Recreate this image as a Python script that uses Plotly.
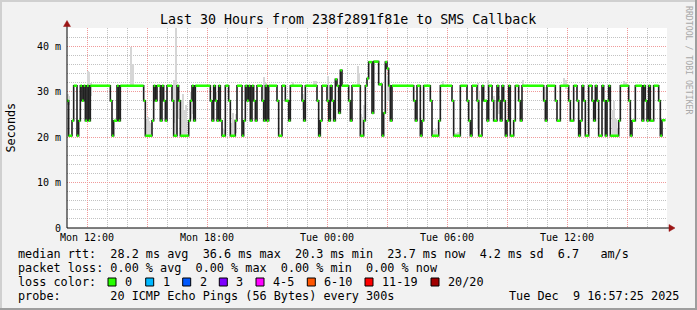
import plotly.graph_objects as go
import pandas as pd

# ---------------- data ----------------
START = pd.Timestamp("2025-12-08 11:00")   # Mon 11:00, 30 hours shown
STEP_S = 300                               # 5-minute RRD step
END_STEP = 359

# median RTT step changes: step index where a new value begins, value in ms
change_step = [0, 1, 3, 4, 6, 7, 8, 9, 10, 11, 12, 13, 14, 26, 27, 28, 30, 31, 32,
               46, 47, 51, 52, 53, 54, 56, 57, 58, 59, 60, 63, 64, 66, 67, 68, 73, 74,
               75, 76, 77, 86, 87, 88, 89, 90, 91, 92, 93, 95, 97, 98, 101, 102, 105,
               106, 107, 108, 109, 110, 111, 112, 113, 114, 117, 118, 119, 120, 121,
               126, 127, 129, 131, 133, 134, 141, 142, 143, 150, 151, 152, 153, 156,
               157, 158, 159, 160, 161, 162, 163, 164, 165, 169, 170, 171, 176, 178,
               179, 180, 181, 183, 184, 187, 189, 190, 191, 192, 193, 194, 195, 208,
               209, 210, 212, 213, 214, 218, 219, 223, 224, 231, 232, 236, 240, 241,
               242, 243, 246, 247, 249, 250, 252, 253, 255, 256, 258, 259, 260, 261,
               262, 263, 264, 265, 266, 268, 269, 271, 272, 273, 286, 287, 288, 293,
               294, 296, 301, 302, 304, 306, 307, 308, 309, 310, 311, 313, 315, 316,
               317, 318, 319, 321, 322, 323, 324, 325, 326, 331, 332, 337, 338, 339,
               341, 345, 346, 347, 348, 349, 350, 352, 355, 356, 357]
median_ms = [28.0, 20.3, 23.6, 31.3, 20.3, 23.6, 31.3, 28.0, 31.3, 23.6, 31.3, 23.6, 31.3,
             28.0, 20.3, 23.6, 31.3, 23.6, 31.3,
             28.0, 20.3, 23.6, 31.3, 28.0, 31.3, 23.6, 31.3, 28.0, 23.6, 31.3, 28.0, 20.3,
             31.3, 28.0, 20.3, 23.6, 28.0,
             31.3, 23.6, 31.3, 28.0, 23.6, 31.3, 28.0, 23.6, 31.3, 23.6, 20.3, 31.3, 28.0,
             20.3, 23.6, 31.3, 20.3,
             23.6, 31.3, 28.0, 31.3, 23.6, 31.3, 28.0, 23.6, 31.3, 28.0, 23.6, 31.3, 23.6,
             31.3,
             28.0, 20.3, 31.3, 28.0, 23.6, 31.3, 28.0, 23.6, 31.3, 28.0, 20.3, 23.6, 31.3,
             28.0,
             23.6, 31.3, 28.0, 23.6, 32.7, 31.3, 25.3, 34.7, 31.3, 28.0, 23.6, 31.3, 20.3,
             23.6,
             31.3, 32.9, 36.5, 25.3, 36.6, 31.6, 20.3, 25.3, 36.5, 35.1, 31.3, 23.6, 31.3,
             28.0,
             23.6, 31.3, 20.3, 23.6, 31.3, 28.0, 20.3, 23.6, 31.3, 28.0, 20.3, 31.3, 28.0,
             23.6,
             20.3, 31.3, 28.0, 20.3, 31.3, 28.0, 23.6, 31.3, 28.0, 23.6, 31.3, 28.0, 23.6,
             31.3,
             28.0, 20.3, 23.6, 31.3, 20.3, 23.6, 31.3, 28.0, 23.6, 31.3, 28.0, 23.6, 31.3,
             28.0,
             23.6, 31.3, 28.0, 23.6, 31.3, 28.0, 20.3, 23.6, 31.3, 28.0, 20.3, 31.3, 28.0,
             23.6,
             31.3, 28.0, 20.3, 31.3, 28.0, 20.3, 28.0, 31.3, 20.3, 23.6, 31.3, 28.0, 20.3,
             23.6,
             31.3, 23.6, 31.3, 28.0, 23.6, 31.3, 23.6, 31.3, 28.0, 20.3, 23.7]

# smoke (spread of the 20 pings) : step index, low ms, high ms
smoke_step = [0, 1, 12, 13, 14, 38, 39, 47, 48, 49, 50, 64, 65, 66, 68, 69, 70, 71, 74, 75,
              88, 89, 93, 94, 98, 99, 100, 101, 118, 119, 120, 135, 141, 148, 149, 156, 157,
              174, 175, 176, 177, 178, 192, 193, 220, 221, 225, 233, 234, 246, 247, 252,
              256, 257, 259, 273, 286, 287, 298, 299, 327, 328, 329, 330, 334, 335]
smoke_low_ms = [27.0, 27.0, 28.0, 28.0, 29.0, 31.3, 31.3, 20.3, 20.3, 20.3, 20.3, 23.0, 20.3,
                24.0, 20.3, 20.3, 20.3, 20.3, 24.0, 25.0, 28.0, 28.0, 20.3, 20.3, 20.3, 20.3,
                20.3, 21.0, 28.0, 28.0, 24.0, 31.3, 26.0, 31.3, 31.3, 28.0, 26.0, 31.3, 31.3,
                20.3, 20.3, 23.6, 28.0, 30.0, 20.3, 20.3, 31.3, 20.3, 20.3, 22.0, 20.5, 30.0,
                23.6, 24.0, 25.0, 31.3, 28.0, 26.0, 31.3, 30.5, 20.3, 20.3, 20.3, 20.3, 31.3,
                31.3]
smoke_high_ms = [29.5, 29.0, 34.5, 34.3, 32.0, 39.8, 36.0, 24.0, 24.5, 23.5, 23.0, 32.5, 44.0,
                 31.0, 28.0, 29.5, 26.0, 27.0, 30.0, 30.5, 31.0, 30.0, 22.0, 21.5, 23.0, 25.3,
                 24.0, 25.0, 33.2, 32.0, 30.0, 32.2, 29.5, 32.4, 32.4, 33.5, 31.0, 35.7, 34.0,
                 25.0, 24.5, 27.0, 33.4, 32.5, 21.5, 21.8, 32.4, 21.0, 21.2, 32.0, 30.0, 32.5,
                 29.0, 28.0, 29.0, 32.6, 31.0, 31.0, 33.0, 32.5, 26.0, 28.0, 24.0, 22.0, 32.4,
                 32.2]

y_tick_vals = [0, 10, 20, 30, 40]
y_tick_text = ["0", "10 m", "20 m", "30 m", "40 m"]
x_grid_times = ["2025-12-08 12:00", "2025-12-08 15:00", "2025-12-08 18:00", "2025-12-08 21:00",
                "2025-12-09 00:00", "2025-12-09 03:00", "2025-12-09 06:00", "2025-12-09 09:00",
                "2025-12-09 12:00", "2025-12-09 15:00"]
x_grid_text = ["Mon 12:00", "", "Mon 18:00", "", "Tue 00:00", "", "Tue 06:00", "",
               "Tue 12:00", ""]

loss_labels = ["0", "1", "2", "3", "4-5", "6-10", "11-19", "20/20"]
loss_colors = ["#26ff00", "#00b8ff", "#0059ff", "#7e00ff", "#ff00ff", "#ff5500", "#ff0000",
               "#a10000"]

title = "Last 30 Hours from 238f2891f81e to SMS Callback"
stat_lines = [
    "median rtt:  28.2 ms avg  36.6 ms max  20.3 ms min  23.7 ms now  4.2 ms sd  6.7   am/s",
    "packet loss: 0.00 % avg  0.00 % max  0.00 % min  0.00 % now",
    "loss color:",
    "probe:       20 ICMP Echo Pings (56 Bytes) every 300s",
]
stamp = "Tue Dec  9 16:57:25 2025"

# ---------------- figure ----------------
MONO = "DejaVu Sans Mono"
L, R, T, B = 67, 30, 28, 82
W, H = 697, 310
PW, PH = W - L - R, H - T - B


def px(x):
    return (x - L) / PW


def py(y):
    return (T + PH - y) / PH


def tm(i):
    return START + pd.Timedelta(seconds=STEP_S * i)


def nb(s):
    return s.replace(" ", "\u00a0")


fig = go.Figure()

# smoke
fig.add_trace(go.Bar(
    x=[tm(s + 0.5) for s in smoke_step],
    y=[h - l for l, h in zip(smoke_low_ms, smoke_high_ms)],
    base=smoke_low_ms,
    width=STEP_S * 1000,
    marker=dict(color="#d6d6d6", line=dict(width=0)),
    hoverinfo="skip", showlegend=False,
))

# median black step line
xs = [tm(s) for s in change_step] + [tm(END_STEP)]
ys = median_ms + [median_ms[-1]]
fig.add_trace(go.Scatter(x=xs, y=ys, mode="lines", line=dict(color="#202020", width=1.6, shape="hv"),
                         hoverinfo="skip", showlegend=False))

# green (0 % loss) horizontal segments
gx, gy = [], []
for k, v in enumerate(median_ms):
    s0 = change_step[k]
    s1 = change_step[k + 1] if k + 1 < len(change_step) else END_STEP
    gx += [tm(s0), tm(s1), None]
    gy += [v, v, None]
fig.add_trace(go.Scatter(x=gx, y=gy, mode="lines", line=dict(color=loss_colors[0], width=2.5),
                         hoverinfo="skip", showlegend=False))

ann = []
ann.append(dict(text=nb(title), x=px(348), y=py(19), xref="paper", yref="paper",
                xanchor="center", yanchor="middle", showarrow=False,
                font=dict(family=MONO, size=13.3, color="#000")))
for j, line in enumerate(stat_lines):
    ann.append(dict(text=nb(line), x=px(16), y=py(254 + 14 * j), xref="paper", yref="paper",
                    xanchor="left", yanchor="middle", showarrow=False,
                    font=dict(family=MONO, size=11.8, color="#000")))
ann.append(dict(text=nb(stamp), x=px(681), y=py(296), xref="paper", yref="paper",
                xanchor="right", yanchor="middle", showarrow=False,
                font=dict(family=MONO, size=11.8, color="#000")))
ann.append(dict(text="Seconds", x=px(10.5), y=py(128), xref="paper", yref="paper",
                xanchor="center", yanchor="middle", showarrow=False, textangle=-90,
                font=dict(family=MONO, size=11.8, color="#000")))
ann.append(dict(text=nb("RRDTOOL / TOBI OETIKER"), x=px(689), y=py(60), xref="paper", yref="paper",
                xanchor="center", yanchor="middle", showarrow=False, textangle=90,
                font=dict(family=MONO, size=8.2, color="#a8a8a8")))

box_x = [108, 145.7, 182.7, 219.3, 256, 307.3, 365, 431]
shapes = []
for bx, lab, col in zip(box_x, loss_labels, loss_colors):
    shapes.append(dict(type="rect", xref="paper", yref="paper", x0=px(bx), x1=px(bx + 8),
                       y0=py(286), y1=py(278), fillcolor=col, line=dict(color="#000", width=1)))
    ann.append(dict(text=lab, x=px(bx + 15), y=py(282), xref="paper", yref="paper",
                    xanchor="left", yanchor="middle", showarrow=False,
                    font=dict(family=MONO, size=11.8, color="#000")))

# axes lines and arrows
shapes.append(dict(type="line", xref="paper", yref="paper", x0=0, x1=0, y0=0, y1=py(23),
                   line=dict(color="#000", width=1)))
shapes.append(dict(type="line", xref="paper", yref="paper", x0=0, x1=px(671), y0=0, y1=0,
                   line=dict(color="#000", width=1)))
shapes.append(dict(type="path", xref="paper", yref="paper",
                   path=f"M {px(67)} {py(20.5)} L {px(63.5)} {py(26.5)} L {px(70.5)} {py(26.5)} Z",
                   fillcolor="#9b1515", line=dict(color="#9b1515", width=0.5)))
shapes.append(dict(type="path", xref="paper", yref="paper",
                   path=f"M {px(675)} {py(228)} L {px(669)} {py(224.5)} L {px(669)} {py(231.5)} Z",
                   fillcolor="#9b1515", line=dict(color="#9b1515", width=0.5)))
# outer 3D border
shapes.append(dict(type="line", xref="paper", yref="paper", x0=px(1), x1=px(1), y0=py(0), y1=py(310),
                   line=dict(color="#d0d0d0", width=2)))
shapes.append(dict(type="line", xref="paper", yref="paper", x0=px(0), x1=px(697), y0=py(1), y1=py(1),
                   line=dict(color="#d0d0d0", width=2)))
shapes.append(dict(type="line", xref="paper", yref="paper", x0=px(696), x1=px(696), y0=py(0), y1=py(310),
                   line=dict(color="#9e9e9e", width=2)))
shapes.append(dict(type="line", xref="paper", yref="paper", x0=px(0), x1=px(697), y0=py(309), y1=py(309),
                   line=dict(color="#9e9e9e", width=2)))

fig.update_layout(
    width=W, height=H,
    margin=dict(l=L, r=R, t=T, b=B),
    paper_bgcolor="#f2f2f2", plot_bgcolor="#ffffff",
    showlegend=False, bargap=0,
    annotations=ann, shapes=shapes,
    xaxis=dict(
        type="date",
        range=[START, START + pd.Timedelta(hours=30)],
        tickvals=x_grid_times, ticktext=x_grid_text,
        showgrid=True, gridcolor="#f09a9a", griddash="1px,1px", gridwidth=1,
        minor=dict(dtick=3600000, tick0=START, showgrid=True, gridcolor="#c2c2c2",
                   griddash="1px,1px", gridwidth=1, ticks=""),
        ticks="", showline=False, zeroline=False,
        tickfont=dict(family=MONO, size=10, color="#000"),
        ticklabelstandoff=2,
    ),
    yaxis=dict(
        range=[0, 44],
        tickvals=y_tick_vals, ticktext=y_tick_text,
        showgrid=True, gridcolor="#f09a9a", griddash="1px,1px", gridwidth=1,
        minor=dict(dtick=2, tick0=0, showgrid=True, gridcolor="#c2c2c2",
                   griddash="1px,1px", gridwidth=1, ticks=""),
        ticks="", showline=False, zeroline=False,
        tickfont=dict(family=MONO, size=10, color="#000"),
        ticklabelstandoff=5,
    ),
)

fig.write_html("out.html")
